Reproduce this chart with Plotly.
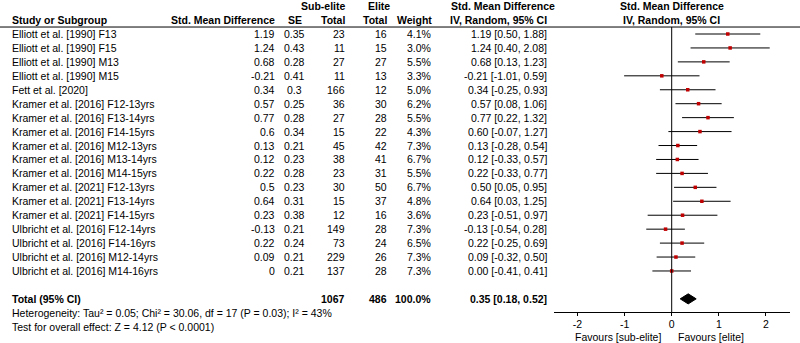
import plotly.graph_objects as go

studies = ["Elliott et al. [1990] F13", "Elliott et al. [1990] F15", "Elliott et al. [1990] M13",
           "Elliott et al. [1990] M15", "Fett et al. [2020]", "Kramer et al. [2016] F12-13yrs",
           "Kramer et al. [2016] F13-14yrs", "Kramer et al. [2016] F14-15yrs", "Kramer et al. [2016] M12-13yrs",
           "Kramer et al. [2016] M13-14yrs", "Kramer et al. [2016] M14-15yrs", "Kramer et al. [2021] F12-13yrs",
           "Kramer et al. [2021] F13-14yrs", "Kramer et al. [2021] F14-15yrs", "Ulbricht et al. [2016] F12-14yrs",
           "Ulbricht et al. [2016] F14-16yrs", "Ulbricht et al. [2016] M12-14yrs", "Ulbricht et al. [2016] M14-16yrs"]
smd = [1.19, 1.24, 0.68, -0.21, 0.34, 0.57, 0.77, 0.60, 0.13, 0.12, 0.22, 0.50, 0.64, 0.23, -0.13, 0.22, 0.09, 0.00]
se = [0.35, 0.43, 0.28, 0.41, 0.3, 0.25, 0.28, 0.34, 0.21, 0.23, 0.28, 0.23, 0.31, 0.38, 0.21, 0.24, 0.21, 0.21]
sub_elite_total = [23, 11, 27, 11, 166, 36, 27, 15, 45, 38, 23, 30, 15, 12, 149, 73, 229, 137]
elite_total = [16, 15, 27, 13, 12, 30, 28, 22, 42, 41, 31, 50, 37, 16, 28, 24, 26, 28]
weight = [4.1, 3.0, 5.5, 3.3, 5.0, 6.2, 5.5, 4.3, 7.3, 6.7, 5.5, 6.7, 4.8, 3.6, 7.3, 6.5, 7.3, 7.3]
ci_lo = [0.50, 0.40, 0.13, -1.01, -0.25, 0.08, 0.22, -0.07, -0.28, -0.33, -0.33, 0.05, 0.03, -0.51, -0.54, -0.25, -0.32, -0.41]
ci_hi = [1.88, 2.08, 1.23, 0.59, 0.93, 1.06, 1.32, 1.27, 0.54, 0.57, 0.77, 0.95, 1.25, 0.97, 0.28, 0.69, 0.50, 0.41]

total_sub = 1067
total_elite = 486
total_weight = 100.0
pooled = 0.35
pooled_lo = 0.18
pooled_hi = 0.52
heterogeneity = "Heterogeneity: Tau² = 0.05; Chi² = 30.06, df = 17 (P = 0.03); I² = 43%"
overall = "Test for overall effect: Z = 4.12 (P < 0.0001)"
x_ticks = [-2, -1, 0, 1, 2]

W, H = 800, 343
FONT = "Liberation Sans, Arial, sans-serif"
FS = 10.5

rows = list(range(len(studies)))
total_row = len(studies) + 1
axis_k = total_row + 1

fig = go.Figure()

fig.add_trace(go.Scatter(
    x=smd, y=rows, mode="markers",
    marker=dict(symbol="square", size=3.5, color="#c00000"),
    error_x=dict(type="data", symmetric=False,
                 array=[h - m for h, m in zip(ci_hi, smd)],
                 arrayminus=[m - l for m, l in zip(smd, ci_lo)],
                 color="black", thickness=1, width=0),
    hoverinfo="skip", showlegend=False, cliponaxis=False))

dh = 0.36
fig.add_trace(go.Scatter(
    x=[pooled_lo, pooled, pooled_hi, pooled, pooled_lo],
    y=[total_row, total_row - dh, total_row, total_row + dh, total_row],
    mode="lines", fill="toself", fillcolor="black", line=dict(color="black", width=1),
    hoverinfo="skip", showlegend=False))

ann = []

def px(x):
    return x / W

def txt(x_px, y, text, anchor="left", bold=False):
    ann.append(dict(x=px(x_px), xref="paper", y=y, yref="y", text=f"<b>{text}</b>" if bold else text,
                    showarrow=False, xanchor=anchor, yanchor="middle",
                    font=dict(family=FONT, size=FS, color="black")))

txt(347, -2, "Sub-elite", "right", True)
txt(366, -2, "Elite", "left", True)
txt(449, -2, "Std. Mean Difference", "left", True)
txt(671.7, -2, "Std. Mean Difference", "center", True)
txt(10, -1, "Study or Subgroup", "left", True)
txt(277, -1, "Std. Mean Difference", "right", True)
txt(295, -1, "SE", "center", True)
txt(347, -1, "Total", "right", True)
txt(389, -1, "Total", "right", True)
txt(434, -1, "Weight", "right", True)
txt(549, -1, "IV, Random, 95% CI", "right", True)
txt(671.7, -1, "IV, Random, 95% CI", "center", True)

for i, name in enumerate(studies):
    txt(10, i, name)
    txt(277, i, f"{smd[i]:g}", "right")
    txt(294, i, f"{se[i]:g}", "center")
    txt(347, i, str(sub_elite_total[i]), "right")
    txt(389, i, str(elite_total[i]), "right")
    txt(433, i, f"{weight[i]:.1f}%", "right")
    txt(549, i, f"{smd[i]:.2f} [{ci_lo[i]:.2f}, {ci_hi[i]:.2f}]", "right")

txt(10, total_row, "Total (95% CI)", "left", True)
txt(347, total_row, str(total_sub), "right", True)
txt(389, total_row, str(total_elite), "right", True)
txt(433, total_row, f"{total_weight:.1f}%", "right", True)
txt(549, total_row, f"{pooled:.2f} [{pooled_lo:.2f}, {pooled_hi:.2f}]", "right", True)
txt(10, total_row + 1, heterogeneity)
txt(10, total_row + 2, overall)

fav_k = total_row + 2.75
ann.append(dict(x=-0.19, xref="x", y=fav_k, yref="y", text="Favours [sub-elite]",
                showarrow=False, xanchor="right", yanchor="middle",
                font=dict(family=FONT, size=FS, color="black")))
ann.append(dict(x=0.09, xref="x", y=fav_k, yref="y", text="Favours [elite]",
                showarrow=False, xanchor="left", yanchor="middle",
                font=dict(family=FONT, size=FS, color="black")))

shapes = [
    dict(type="line", xref="paper", x0=0, x1=1, yref="y", y0=-0.5, y1=-0.5,
         line=dict(color="black", width=1)),
    dict(type="line", xref="x", x0=0, x1=0, yref="y", y0=-0.5, y1=axis_k,
         line=dict(color="black", width=1)),
]

first_px = 34.0
step = 13.94
top_k = -first_px / step
bottom_k = (H - first_px) / step
axis_px = first_px + axis_k * step - 1

fig.update_layout(
    width=W, height=H, margin=dict(l=0, r=0, t=0, b=0),
    paper_bgcolor="white", plot_bgcolor="white",
    annotations=ann, shapes=shapes,
    xaxis=dict(domain=[px(553.9), px(789.5)], range=[-2.5, 2.5], tickvals=x_ticks,
               ticktext=[str(t) for t in x_ticks], showgrid=False, zeroline=False,
               anchor="free", position=1 - axis_px / H,
               showline=True, linecolor="black", linewidth=1, ticks="outside", ticklen=3,
               tickcolor="black", tickfont=dict(family=FONT, size=FS, color="black"),
               fixedrange=True),
    yaxis=dict(domain=[0, 1], range=[bottom_k, top_k], visible=False,
               showgrid=False, zeroline=False, fixedrange=True),
)

fig.write_html("out.html", config={"displayModeBar": False, "staticPlot": True},
               post_script="document.body.style.margin='0';document.body.style.overflow='hidden';")
